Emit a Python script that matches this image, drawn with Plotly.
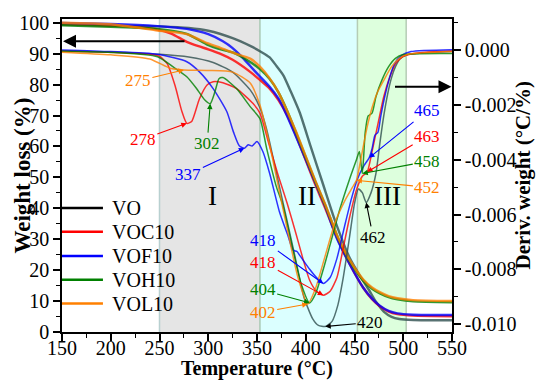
import plotly.graph_objects as go

# ---- series ----
series = ["VO", "VOC10", "VOF10", "VOH10", "VOL10"]
legend_colors = ["#000000", "#ff0000", "#0000ff", "#008000", "#ff8000"]
curve_colors = ["#2f4f4f", "#ff0000", "#0000ff", "#008000", "#ff8000"]

# ---- TG curves: weight (%) vs temperature (°C), left axis ----
tg_vo_t = [150, 200, 250, 280, 300, 325, 343, 353, 363, 370, 377, 385, 394, 405, 417, 430, 445, 455, 465, 472, 480, 488, 496, 510, 550]
tg_vo = [99.4, 99.1, 98.8, 98.3, 97.4, 95.0, 92.5, 90.8, 88.8, 86.0, 83.0, 77.5, 70.8, 60.0, 48.5, 36.0, 24.0, 18.5, 13.5, 9.8, 6.6, 4.9, 4.2, 3.9, 3.8]

tg_voc_t = [150, 200, 248, 262, 278, 290, 300, 312, 325, 343, 353, 363, 372, 381, 390, 400, 410, 420, 432, 445, 459, 468, 476, 485, 494, 510, 550]
tg_voc = [99.6, 99.1, 97.8, 96.5, 93.8, 92.4, 91.4, 90.0, 88.0, 84.1, 81.5, 78.7, 75.0, 70.0, 63.5, 55.5, 47.5, 40.0, 30.5, 22.0, 14.3, 10.6, 8.3, 6.6, 5.8, 5.3, 5.1]

tg_vof_t = [150, 200, 248, 278, 300, 315, 325, 335, 343, 353, 363, 372, 381, 390, 400, 410, 420, 432, 445, 459, 468, 476, 485, 494, 510, 550]
tg_vof = [99.9, 99.6, 98.9, 98.0, 96.3, 94.0, 91.8, 88.8, 86.0, 82.6, 79.3, 75.5, 69.8, 63.2, 55.8, 48.2, 40.6, 30.2, 22.0, 14.3, 10.8, 8.5, 6.8, 6.0, 5.6, 5.5]

tg_voh_t = [150, 200, 248, 278, 299, 310, 325, 343, 353, 363, 372, 381, 390, 400, 410, 420, 433, 445, 459, 468, 476, 485, 494, 510, 550]
tg_voh = [99.2, 98.7, 98.0, 96.4, 92.9, 91.6, 90.4, 87.3, 85.0, 81.8, 77.5, 71.5, 64.5, 56.5, 48.5, 41.0, 30.5, 23.0, 16.6, 14.0, 12.5, 11.3, 10.6, 9.9, 9.6]

tg_vol_t = [150, 200, 248, 278, 299, 310, 325, 343, 353, 363, 372, 381, 390, 400, 410, 420, 433, 445, 459, 468, 476, 485, 494, 510, 550]
tg_vol = [100.0, 99.5, 97.5, 96.3, 93.4, 92.2, 90.3, 88.4, 85.8, 82.0, 77.5, 71.4, 64.8, 56.8, 48.8, 41.2, 30.6, 23.3, 17.0, 14.4, 12.9, 11.6, 10.9, 10.3, 10.0]

# ---- DTG curves: derivative weight vs temperature, right axis ----
dtg_vo_t = [150, 200, 250, 280, 305, 325, 343, 353, 360, 370, 380, 390, 398, 407, 413, 420, 427, 433, 438, 445, 450, 454, 458, 462, 467, 472, 476, 480, 484, 488, 492, 497, 505, 520, 550]
dtg_vo = [-0.00002, -0.00007, -0.00015, -0.00025, -0.00045, -0.0008, -0.00145, -0.0021, -0.0029, -0.0045, -0.0061, -0.0077, -0.0090, -0.0098, -0.01005, -0.01009, -0.0099, -0.0093, -0.0084, -0.0068, -0.0056, -0.00507, -0.0052, -0.00556, -0.0052, -0.0045, -0.0034, -0.0024, -0.0016, -0.0010, -0.0006, -0.0003, -0.00016, -0.0001, -0.00005]

dtg_voc_t = [150, 200, 235, 250, 258, 266, 273, 278, 283, 291, 299, 305, 315, 329, 346, 353, 362, 372, 381, 390, 397, 404, 411, 418, 425, 432, 438, 445, 452, 458, 463, 468, 474, 480, 486, 492, 500, 515, 550]
dtg_voc = [-0.00004, -0.00007, -0.00013, -0.00022, -0.0005, -0.0013, -0.00224, -0.00267, -0.0026, -0.00177, -0.00126, -0.00115, -0.00119, -0.0014, -0.00195, -0.0023, -0.0034, -0.0046, -0.0056, -0.0067, -0.0076, -0.0084, -0.0088, -0.00895, -0.0088, -0.0083, -0.0073, -0.0061, -0.0051, -0.0046, -0.00445, -0.0037, -0.0027, -0.0017, -0.0010, -0.0005, -0.00022, -0.0001, -0.00003]

dtg_vof_t = [150, 200, 248, 278, 291, 305, 319, 326, 332, 337, 341, 345, 350, 356, 363, 373, 382, 387, 391, 394, 404, 411, 418, 425, 432, 440, 447, 453, 460, 465, 468, 471, 474, 477, 481, 486, 491, 498, 508, 550]
dtg_vof = [0.00001, -0.00005, -0.00015, -0.00042, -0.00079, -0.0014, -0.00224, -0.0030, -0.0035, -0.00358, -0.00345, -0.0035, -0.00333, -0.0037, -0.0045, -0.0059, -0.0068, -0.0073, -0.00735, -0.0075, -0.0080, -0.0083, -0.00852, -0.0083, -0.0076, -0.0064, -0.0054, -0.0047, -0.0042, -0.00393, -0.0036, -0.0031, -0.0030, -0.0024, -0.0017, -0.0010, -0.0005, -0.0002, -0.00005, 0.00002]

dtg_voh_t = [150, 200, 248, 264, 278, 288, 296, 302, 307, 311, 315, 329, 343, 353, 360, 370, 376, 385, 395, 404, 410, 418, 425, 435, 445, 452, 455, 458, 461, 464, 468, 472, 478, 485, 492, 500, 550]
dtg_voh = [-0.00004, -0.00008, -0.00024, -0.00061, -0.00097, -0.0014, -0.0018, -0.00195, -0.0015, -0.00104, -0.0010, -0.0014, -0.00206, -0.0025, -0.0036, -0.0050, -0.0056, -0.0070, -0.0085, -0.00923, -0.0089, -0.0080, -0.0071, -0.0058, -0.0047, -0.0040, -0.0037, -0.0045, -0.0030, -0.0024, -0.0023, -0.0017, -0.0011, -0.0006, -0.0003, -0.00016, -0.00012]

dtg_vol_t = [150, 200, 240, 261, 275, 300, 325, 343, 353, 362, 372, 382, 392, 402, 410, 420, 430, 440, 448, 452, 458, 463, 468, 474, 480, 488, 496, 505, 550]
dtg_vol = [-0.00007, -0.00017, -0.00032, -0.00066, -0.00072, -0.00074, -0.0008, -0.0012, -0.0020, -0.0033, -0.0050, -0.0067, -0.0083, -0.00927, -0.0087, -0.0075, -0.0063, -0.0055, -0.0050, -0.00475, -0.0037, -0.0028, -0.0021, -0.0015, -0.0011, -0.0006, -0.0003, -0.00015, -0.00005]

tg_sets = [(tg_vo_t, tg_vo), (tg_voc_t, tg_voc), (tg_vof_t, tg_vof), (tg_voh_t, tg_voh), (tg_vol_t, tg_vol)]
dtg_sets = [(dtg_vo_t, dtg_vo), (dtg_voc_t, dtg_voc), (dtg_vof_t, dtg_vof), (dtg_voh_t, dtg_voh), (dtg_vol_t, dtg_vol)]

# ---- decomposition stages ----
stage_names = ["I", "II", "III"]
stage_bounds = [(250, 353), (353, 453), (453, 503)]
stage_fill = ["#e5e5e5", "#dbffff", "#ddffdd"]
stage_edge = ["#b8d0d0", "#a9c9b4", "#b5cdb5"]
stage_label_x = [304, 401, 484]
stage_label_y = 44

# ---- axis ticks ----
x_ticks = [150, 200, 250, 300, 350, 400, 450, 500, 550]
y_ticks = [0, 10, 20, 30, 40, 50, 60, 70, 80, 90, 100]
y2_ticks = [0.0, -0.002, -0.004, -0.006, -0.008, -0.010]
y2_labels = ["0.000", "-0.002", "-0.004", "-0.006", "-0.008", "-0.010"]

# ---- peak labels: (text, colour index, T, value, axis, dx, dy) ----
peaks = [
    ("275", 4, 275, -0.00072, "y2", -46, 11),
    ("278", 1, 278, -0.00267, "y2", -44, 16),
    ("302", 3, 302, -0.00195, "y2", -3, 40),
    ("337", 2, 337, -0.00358, "y2", -56, 26),
    ("418", 2, 418, -0.00852, "y2", -60, -43),
    ("418", 1, 418, -0.00895, "y2", -60, -33),
    ("404", 3, 404, -0.00923, "y2", -47, -13),
    ("402", 4, 402, -0.00927, "y2", -45, 8),
    ("420", 0, 420, -0.01009, "y2", 45, -4),
    ("462", 0, 462, -0.00556, "y2", 7, 35),
    ("465", 2, 465, -0.00393, "y2", 58, -47),
    ("463", 1, 463, -0.00445, "y2", 60, -36),
    ("458", 3, 458, -0.0045, "y2", 65, -12),
    ("452", 4, 452, -0.00475, "y2", 71, 7),
]

FONT = "Liberation Serif"

fig = go.Figure()

for i, name in enumerate(series):
    t, v = tg_sets[i]
    fig.add_trace(go.Scatter(x=t, y=v, mode="lines", name=name, showlegend=False,
                             line=dict(color=curve_colors[i], width=2.4, shape="spline", smoothing=0.6),
                             opacity=0.8, yaxis="y"))
for i, name in enumerate(series):
    t, v = dtg_sets[i]
    fig.add_trace(go.Scatter(x=t, y=v, mode="lines", name=name, showlegend=False,
                             line=dict(color=curve_colors[i], width=1.5, shape="spline", smoothing=0.6),
                             opacity=0.8, yaxis="y2"))

shapes = []
for (a, b), fc in zip(stage_bounds, stage_fill):
    shapes.append(dict(type="rect", xref="x", yref="paper", x0=a, x1=b, y0=0, y1=1,
                       fillcolor=fc, line=dict(width=0), layer="below"))
for (a, b), ec in zip(stage_bounds, stage_edge):
    shapes.append(dict(type="line", xref="x", yref="paper", x0=a, x1=a, y0=0, y1=1,
                       line=dict(color=ec, width=1.5), layer="below"))
shapes.append(dict(type="line", xref="x", yref="paper", x0=stage_bounds[-1][1], x1=stage_bounds[-1][1],
                   y0=0, y1=1, line=dict(color=stage_edge[-1], width=1.5), layer="below"))

# legend drawn as line samples with labels
leg_y = [0.396, 0.320, 0.243, 0.167, 0.091]
annotations = []
for i, name in enumerate(series):
    shapes.append(dict(type="line", xref="paper", yref="paper", x0=0.0, x1=0.105,
                       y0=leg_y[i], y1=leg_y[i], line=dict(color=legend_colors[i], width=2.5)))
    annotations.append(dict(xref="paper", yref="paper", x=0.123, y=leg_y[i], text=name,
                            showarrow=False, xanchor="left", yanchor="middle",
                            font=dict(family=FONT, size=20, color="black")))

for name, lx in zip(stage_names, stage_label_x):
    annotations.append(dict(xref="x", yref="y", x=lx, y=stage_label_y, text=name, showarrow=False,
                            font=dict(family=FONT, size=27, color="black")))

for text, ci, t, val, ax_name, dx, dy in peaks:
    c = legend_colors[ci]
    annotations.append(dict(xref="x", yref=ax_name, x=t, y=val, text=text, showarrow=True,
                            ax=dx, ay=dy, arrowhead=2, arrowsize=1, arrowwidth=1.1, arrowcolor=c,
                            font=dict(family=FONT, size=17, color=c)))

# axis direction arrows
annotations.append(dict(xref="x", yref="y", x=151, y=94.0, text="", showarrow=True,
                        ax=123, ay=0, arrowhead=2, arrowsize=1.3, arrowwidth=2, arrowcolor="black"))
annotations.append(dict(xref="x", yref="y2", x=549.5, y=-0.00133, text="", showarrow=True,
                        ax=-58, ay=0, arrowhead=2, arrowsize=1.3, arrowwidth=2, arrowcolor="black"))

# axis titles
annotations.append(dict(xref="paper", yref="paper", x=0.5, y=-0.116, text="<b>Temperature (°C)</b>",
                        showarrow=False, yanchor="middle",
                        font=dict(family=FONT, size=20, color="black")))
annotations.append(dict(xref="paper", yref="paper", x=-40 / 390, y=0.5, text="<b>Weight loss (%)</b>",
                        showarrow=False, textangle=-90, xanchor="center", yanchor="middle",
                        font=dict(family=FONT, size=23, color="black")))
annotations.append(dict(xref="paper", yref="paper", x=1 + 70 / 390, y=0.5, text="<b>Deriv. weight (°C/%)</b>",
                        showarrow=False, textangle=-90, xanchor="center", yanchor="middle",
                        font=dict(family=FONT, size=21, color="black")))

axis_common = dict(showgrid=False, zeroline=False, showline=True, linecolor="black", linewidth=1.5,
                   ticks="outside", tickcolor="black", tickwidth=1.5, ticklen=7,
                   tickfont=dict(family=FONT, size=20, color="black"))

fig.update_layout(
    width=536, height=381,
    margin=dict(l=62, r=84, t=17, b=49),
    paper_bgcolor="white", plot_bgcolor="white",
    showlegend=False,
    shapes=shapes, annotations=annotations,
    xaxis=dict(range=[150, 550], tickmode="array", tickvals=x_ticks, mirror=True, ticklabelstandoff=-10,
               minor=dict(dtick=25, tick0=150, ticks="outside", ticklen=4, tickwidth=1.2, tickcolor="black"),
               **axis_common),
    yaxis=dict(range=[0, 101.2], tickmode="array", tickvals=y_ticks,
               minor=dict(dtick=5, tick0=0, ticks="outside", ticklen=4, tickwidth=1.2, tickcolor="black"),
               **axis_common),
    yaxis2=dict(range=[-0.01029, 0.00114], overlaying="y", side="right", tickmode="array",
                tickvals=y2_ticks, ticktext=y2_labels,
                minor=dict(tickmode="linear", dtick=0.001, tick0=0, ticks="outside", ticklen=4,
                           tickwidth=1.2, tickcolor="black"),
                **axis_common),
)

fig.write_html("out.html")
